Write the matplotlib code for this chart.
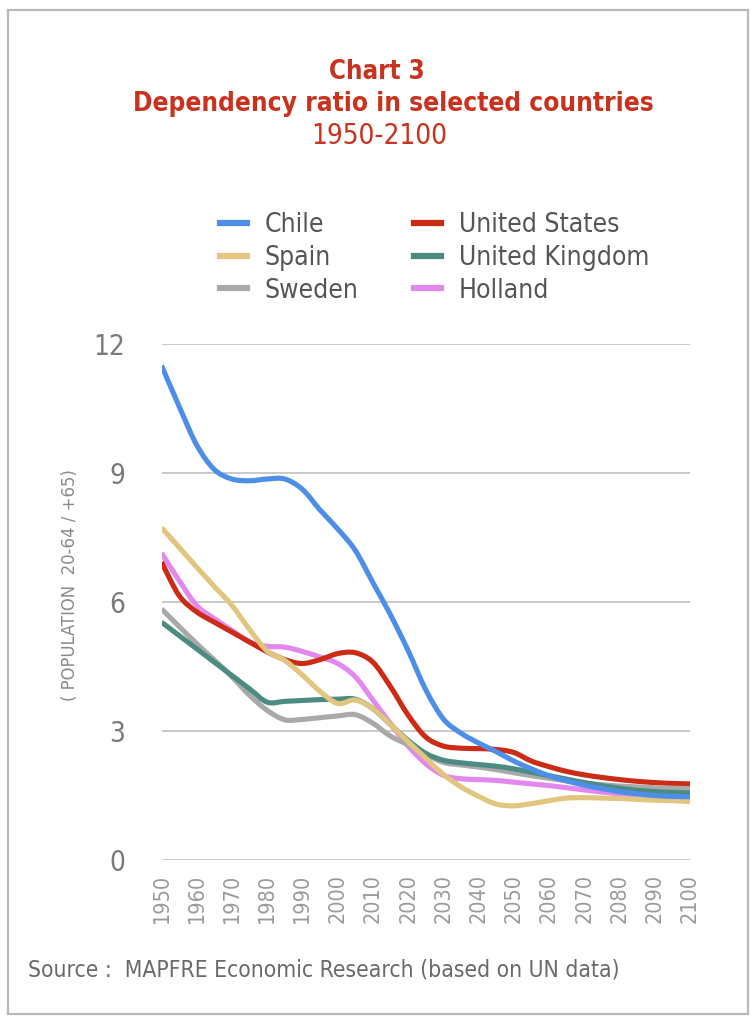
import matplotlib
matplotlib.use("Agg")
import matplotlib.pyplot as plt
from matplotlib import font_manager
from matplotlib.patches import Rectangle, PathPatch
from matplotlib.path import Path
from matplotlib.lines import Line2D

# ---------------- data ----------------
years = list(range(1950, 2101, 5))
chile = [11.5, 10.55, 9.65, 9.08, 8.86, 8.82, 8.86, 8.86, 8.62, 8.14, 7.7, 7.2, 6.45, 5.7, 4.87, 3.96,
         3.28, 2.95, 2.72, 2.52, 2.3, 2.12, 1.96, 1.84, 1.74, 1.66, 1.59, 1.54, 1.5, 1.48, 1.47]
spain = [7.73, 7.27, 6.81, 6.36, 5.92, 5.36, 4.86, 4.64, 4.3, 3.92, 3.64, 3.72, 3.52, 3.15, 2.75, 2.37,
         1.99, 1.7, 1.48, 1.3, 1.26, 1.31, 1.38, 1.44, 1.45, 1.44, 1.43, 1.41, 1.39, 1.38, 1.36]
sweden = [5.84, 5.43, 5.03, 4.65, 4.26, 3.83, 3.48, 3.26, 3.27, 3.31, 3.35, 3.38, 3.18, 2.88, 2.68, 2.46,
          2.27, 2.21, 2.16, 2.1, 2.03, 1.96, 1.9, 1.84, 1.79, 1.75, 1.72, 1.7, 1.68, 1.67, 1.66]
united_states = [6.93, 6.15, 5.77, 5.53, 5.3, 5.07, 4.84, 4.66, 4.57, 4.66, 4.8, 4.82, 4.6, 4.03, 3.37, 2.86,
                 2.65, 2.6, 2.59, 2.57, 2.5, 2.3, 2.17, 2.06, 1.98, 1.92, 1.87, 1.83, 1.8, 1.78, 1.77]
united_kingdom = [5.53, 5.22, 4.91, 4.6, 4.29, 3.98, 3.67, 3.69, 3.71, 3.73, 3.74, 3.74, 3.52, 3.15, 2.78, 2.48,
                  2.32, 2.26, 2.22, 2.18, 2.12, 2.04, 1.96, 1.88, 1.8, 1.73, 1.67, 1.62, 1.59, 1.57, 1.56]
holland = [7.14, 6.5, 5.92, 5.61, 5.34, 5.07, 4.97, 4.95, 4.85, 4.72, 4.57, 4.26, 3.72, 3.17, 2.65, 2.24,
           1.97, 1.89, 1.87, 1.85, 1.81, 1.77, 1.73, 1.68, 1.63, 1.58, 1.54, 1.5, 1.47, 1.45, 1.44]

series_names = ["Chile", "Spain", "Sweden", "United States", "United Kingdom", "Holland"]
series_values = [chile, spain, sweden, united_states, united_kingdom, holland]
series_colors = ["#4d8fe8", "#e2c57e", "#a9a9a9", "#cc2b16", "#4b8c82", "#e388ee"]
series_z = [7, 6, 4, 3, 5, 2]

x_ticks = list(range(1950, 2101, 10))
y_ticks = [0, 3, 6, 9, 12]

title_lines = ["Chart 3", "Dependency ratio in selected countries", "1950-2100"]
y_label = "( POPULATION  20-64 / +65)"
source_text = "Source :  MAPFRE Economic Research (based on UN data)"

# ---------------- fonts ----------------
fam = ["DejaVu Sans"]
plt.rcParams["font.family"] = fam
has_cond = any(f.name == "DejaVu Sans" and str(f.stretch) in ("condensed", "semi-condensed")
               for f in font_manager.fontManager.ttflist)
STRETCH = "condensed" if has_cond else "normal"
plt.rcParams["font.stretch"] = STRETCH
sc = 1.0 if has_cond else 0.9

W, H = 756, 1024
fig = plt.figure(figsize=(W / 100, H / 100), dpi=100)
fig.patch.set_facecolor("white")

def fx(px):
    return px / W

def fy(py):
    return 1 - py / H

left, right, top, bottom = 161.5, 690, 344, 860
ax = fig.add_axes([fx(left), fy(bottom), fx(right) - fx(left), fy(top) - fy(bottom)])


def smooth_path(xs, ys):
    # Catmull-Rom style Bezier path through the given data points
    n = len(xs)
    verts = [(xs[0], ys[0])]
    codes = [Path.MOVETO]
    for i in range(n - 1):
        x0, y0 = (xs[i - 1], ys[i - 1]) if i > 0 else (xs[i], ys[i])
        x1, y1 = xs[i], ys[i]
        x2, y2 = xs[i + 1], ys[i + 1]
        x3, y3 = (xs[i + 2], ys[i + 2]) if i + 2 < n else (xs[i + 1], ys[i + 1])
        c1 = (x1 + (x2 - x0) / 6.0, y1 + (y2 - y0) / 6.0)
        c2 = (x2 - (x3 - x1) / 6.0, y2 - (y3 - y1) / 6.0)
        verts += [c1, c2, (x2, y2)]
        codes += [Path.CURVE4, Path.CURVE4, Path.CURVE4]
    return Path(verts, codes)


handles = []
for name, vals, col, z in zip(series_names, series_values, series_colors, series_z):
    patch = PathPatch(smooth_path(years, vals), facecolor="none", edgecolor=col, lw=3.7,
                      zorder=z, capstyle="butt", joinstyle="round")
    ax.add_patch(patch)
    handles.append(Line2D([], [], color=col, lw=4.5, label=name))

ax.set_xlim(1950, 2100)
ax.set_ylim(0, 12)
ax.set_xticks(x_ticks)
ax.set_yticks(y_ticks)
ax.set_xticklabels([str(t) for t in x_ticks], rotation=90, fontsize=15.5 * sc, color="#9a9a9a",
                   fontstretch=STRETCH)
ax.set_yticklabels([str(t) for t in y_ticks], fontsize=20 * sc, color="#7a7a7a", fontstretch=STRETCH)
ax.tick_params(axis="both", length=0)
ax.tick_params(axis="x", pad=10)
ax.tick_params(axis="y", pad=26)
ax.grid(axis="y", color="#c9c9c9", lw=1.4, zorder=0)
ax.grid(axis="x", visible=False)
for s in ax.spines.values():
    s.set_visible(False)
ax.set_axisbelow(True)

ax.set_ylabel(y_label, fontsize=13.2, color="#8a8a8a", fontstretch=STRETCH)
ax.yaxis.set_label_coords((79 - left) / (right - left), (bottom - 585) / (bottom - top))

# legend
leg = fig.legend(handles=handles, ncol=2, loc="upper left",
                 bbox_to_anchor=(fx(220), fy(212)), frameon=False,
                 prop={"size": 19, "stretch": STRETCH}, handlelength=1.02, handletextpad=0.68,
                 columnspacing=2.1, labelspacing=0.26, borderpad=0, borderaxespad=0)
for t in leg.get_texts():
    t.set_color("#555555")

# title
title_color = "#c8321e"
fig.text(fx(377), fy(72), title_lines[0], ha="center", va="center", fontsize=18.5 * sc,
         fontweight="bold", color=title_color, fontstretch=STRETCH)
fig.text(fx(393), fy(104), title_lines[1], ha="center", va="center", fontsize=18.8 * sc,
         fontweight="bold", color=title_color, fontstretch=STRETCH)
fig.text(fx(379), fy(136), title_lines[2], ha="center", va="center", fontsize=20 * sc,
         color=title_color, fontstretch=STRETCH)

fig.text(fx(28), fy(970), source_text, ha="left", va="center", fontsize=16.4 * sc, color="#6a6a6a",
         fontstretch=STRETCH)

fig.patches.append(Rectangle((fx(8), fy(1014)), fx(748) - fx(8), fy(10) - fy(1014),
                             transform=fig.transFigure, fill=False, edgecolor="#b9b9b9", lw=1.6))

fig.savefig("out.png", dpi=100, facecolor="white")
